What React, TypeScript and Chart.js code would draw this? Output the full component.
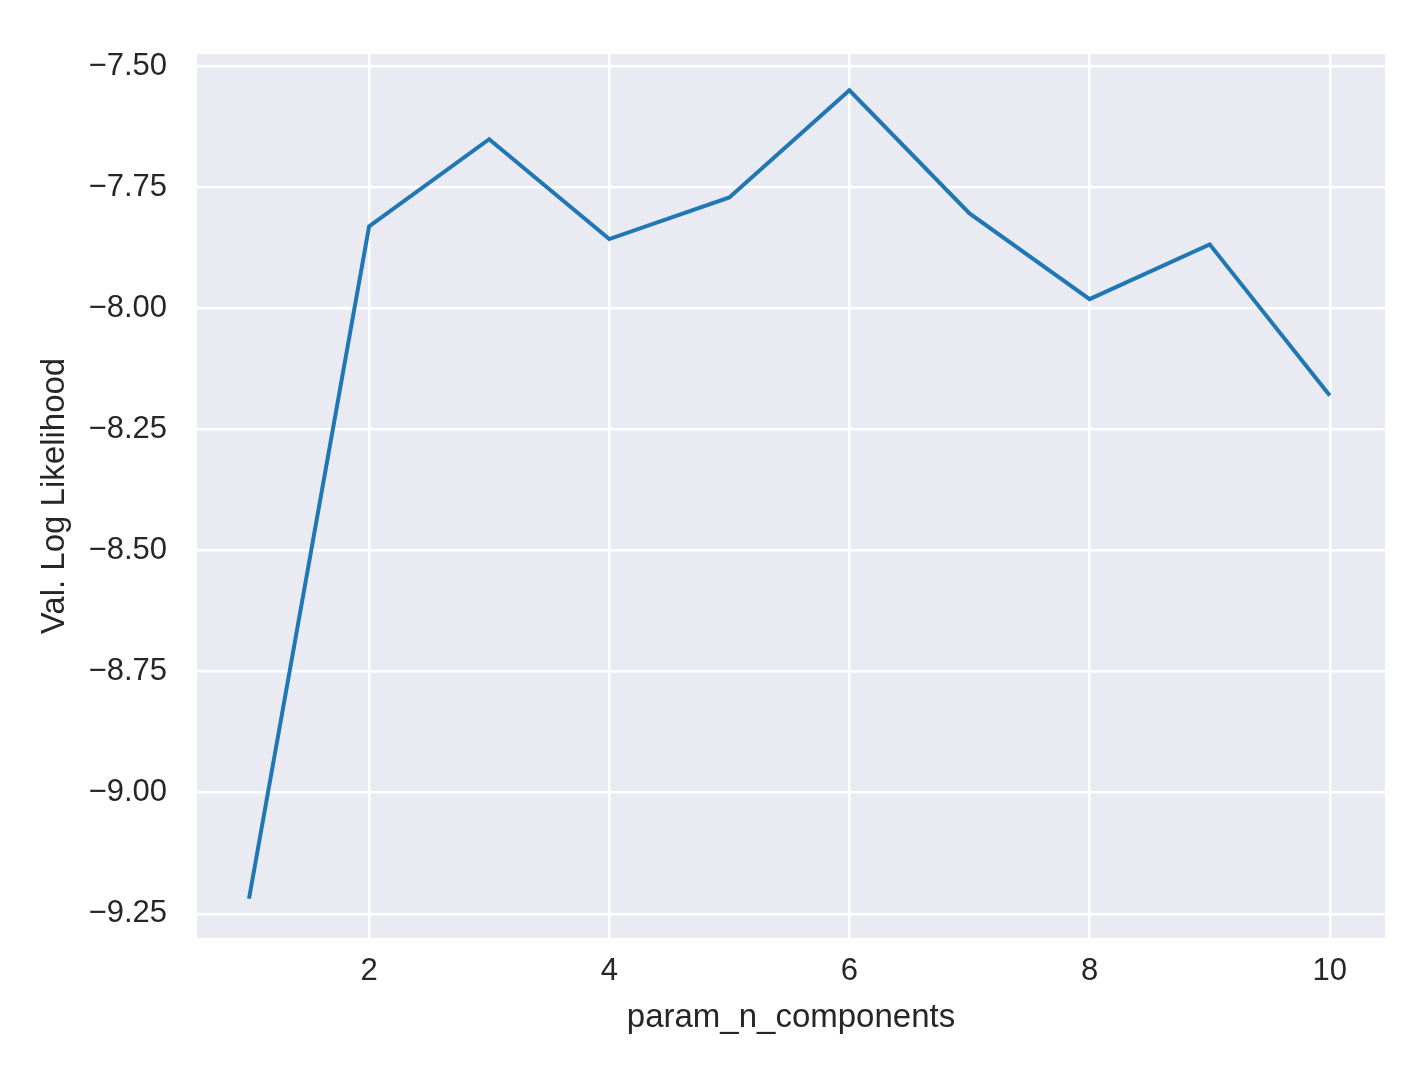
import React, { useEffect, useRef } from "react";
import { Chart, registerables } from "chart.js";

Chart.register(...registerables);

const N_COMPONENTS = [1, 2, 3, 4, 5, 6, 7, 8, 9, 10];
const VAL_LOG_LIKELIHOOD = [-9.219, -7.831, -7.651, -7.857, -7.771, -7.55, -7.804, -7.981, -7.868, -8.18];
const X_TICKS = [2, 4, 6, 8, 10];
const Y_TICKS = [-9.25, -9.0, -8.75, -8.5, -8.25, -8.0, -7.75, -7.5];
const X_LABEL = "param_n_components";
const Y_LABEL = "Val. Log Likelihood";

const FONT = "'Liberation Sans', Arial, sans-serif";
const TEXT = "#262626";

const bgPlugin = {
  id: "axesBg",
  beforeDraw(chart: any) {
    const { ctx, chartArea } = chart;
    if (!chartArea) return;
    ctx.save();
    ctx.fillStyle = "#EAEAF2";
    ctx.fillRect(chartArea.left, chartArea.top, chartArea.right - chartArea.left, chartArea.bottom - chartArea.top);
    ctx.restore();
  },
};

export default function App() {
  const ref = useRef<HTMLCanvasElement | null>(null);

  useEffect(() => {
    document.body.style.margin = "0";
    const canvas = ref.current;
    if (!canvas) return;
    const chart = new Chart(canvas, {
      type: "line",
      data: {
        datasets: [
          {
            data: N_COMPONENTS.map((x, i) => ({ x, y: VAL_LOG_LIKELIHOOD[i] })),
            borderColor: "#1f77b4",
            backgroundColor: "#1f77b4",
            borderWidth: 4,
            pointRadius: 0,
            tension: 0,
            fill: false,
          },
        ],
      },
      options: {
        animation: false,
        responsive: true,
        maintainAspectRatio: false,
        layout: { padding: { left: 0, top: 54, right: 42, bottom: 0 } },
        plugins: { legend: { display: false }, tooltip: { enabled: false } },
        scales: {
          x: {
            type: "linear",
            min: 0.567,
            max: 10.46,
            afterBuildTicks: (scale: any) => {
              scale.ticks = X_TICKS.map((v) => ({ value: v }));
            },
            afterFit: (scale: any) => {
              scale.height = 127;
            },
            grid: { color: "#ffffff", lineWidth: 2.5, drawTicks: false },
            border: { display: false },
            ticks: {
              padding: 15,
              color: TEXT,
              font: { family: FONT, size: 31 },
              maxRotation: 0,
              autoSkip: false,
              callback: (v: any) => String(v),
            },
            title: {
              display: true,
              text: X_LABEL,
              color: TEXT,
              font: { family: FONT, size: 33 },
              padding: { top: 0, bottom: 27 },
            },
          },
          y: {
            type: "linear",
            min: -9.3,
            max: -7.475,
            afterBuildTicks: (scale: any) => {
              scale.ticks = Y_TICKS.map((v) => ({ value: v }));
            },
            afterFit: (scale: any) => {
              scale.width = 197;
            },
            grid: { color: "#ffffff", lineWidth: 2.5, drawTicks: false },
            border: { display: false },
            ticks: {
              padding: 30,
              color: TEXT,
              font: { family: FONT, size: 31 },
              autoSkip: false,
              callback: (v: any) => Number(v).toFixed(2).replace("-", "\u2212"),
            },
            title: {
              display: true,
              text: Y_LABEL,
              color: TEXT,
              font: { family: FONT, size: 33 },
              padding: { top: 35, bottom: 0 },
            },
          },
        },
      },
      plugins: [bgPlugin],
    });
    return () => chart.destroy();
  }, []);

  return (
    <div style={{ position: "absolute", left: 0, top: 0, width: 1427, height: 1065, background: "#ffffff" }}>
      <canvas ref={ref} />
    </div>
  );
}
